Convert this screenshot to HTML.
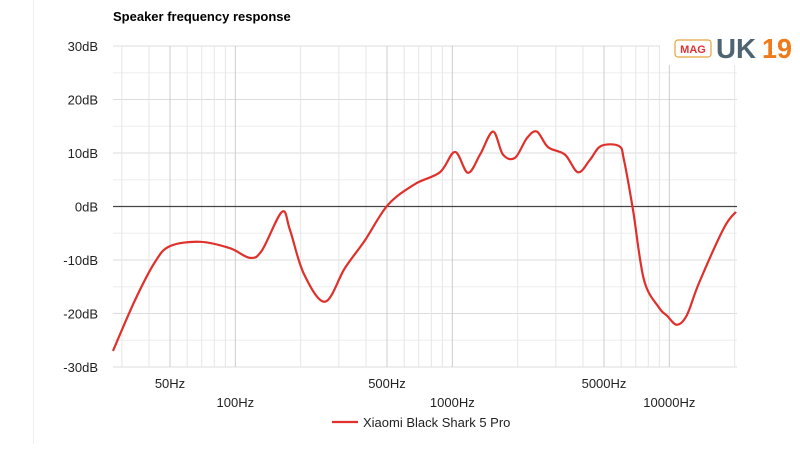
<!DOCTYPE html>
<html><head><meta charset="utf-8"><style>
body{margin:0;background:#fff;width:800px;height:444px;overflow:hidden;font-family:"Liberation Sans",Arial,sans-serif}
</style></head><body>
<svg width="800" height="444" viewBox="0 0 800 444">
<line x1="33.5" y1="0" x2="33.5" y2="444" stroke="#eee"/>
<text x="113" y="21" font-size="13" font-weight="bold" fill="#000">Speaker frequency response</text>
<g id="grid"></g>
<g id="axes"></g>
<path id="curve" fill="none" stroke="#e0302b" stroke-width="2.2"/>
<g>
<rect x="660" y="30" width="140" height="35" fill="#fff"/>
<rect x="675" y="40" width="36" height="17" rx="3" fill="#fff" stroke="#e8a33a" stroke-width="1.2"/>
<text x="693" y="53" font-size="11" font-weight="bold" text-anchor="middle" fill="#d33">MAG</text>
<text x="716" y="58" font-size="28" font-weight="bold" fill="#4f6470" textLength="40" lengthAdjust="spacingAndGlyphs">UK</text>
<text x="762" y="58" font-size="28" font-weight="bold" fill="#f07a1a" textLength="30" lengthAdjust="spacingAndGlyphs">19</text>
</g>
<g>
<line x1="332" y1="422" x2="358" y2="422" stroke="#e0302b" stroke-width="2.2"/>
<text x="363" y="427" font-size="13" fill="#222">Xiaomi Black Shark 5 Pro</text>
</g>
</svg>
<script>
const freqs=[27.3,34.5,42.6,50,68.8,94.5,116.8,132.7,164,178.6,207,259,320,396,505,673,877,1029,1180,1342,1540,1712,1945,2208,2455,2760,3305,3793,4305,4842,5864,6180,6800,7640,8965,9750,10840,12050,13700,17860,20270];
const dbs=[-27,-17.5,-10.4,-7.4,-6.6,-7.8,-9.6,-8.2,-1,-4.4,-12.6,-17.8,-11.5,-6.3,0.3,4.2,6.4,10.2,6.3,9.7,14,9.7,9.1,12.8,14,11.1,9.7,6.4,8.7,11.3,11.3,8.7,-0.6,-13.7,-18.9,-20.4,-22.1,-20.3,-14.3,-4,-1];
const yTicks=[30,20,10,0,-10,-20,-30];
const xTicks=[50,100,500,1000,5000,10000];
const L=113,R=737,T=46,B=367;
const x=f=>170+(Math.log10(f)-Math.log10(50))*217;
const y=d=>T+(30-d)*(B-T)/60;
const ns="http://www.w3.org/2000/svg";
function mk(p,tag,at){const e=document.createElementNS(ns,tag);for(const k in at)e.setAttribute(k,at[k]);p.appendChild(e);return e;}
const g=document.getElementById('grid'),ax=document.getElementById('axes');
for(let d=-30;d<=30;d+=5){if(d===0)continue;const l=mk(g,'line',{x1:L,x2:R,y1:y(d),y2:y(d),stroke:d%10===0?'#ddd':'#eee'});

}
for(let dec=10;dec<=10000;dec*=10)for(let m=1;m<10;m++){const f=dec*m;const xx=x(f);if(xx<L||xx>R)continue;
const l=mk(g,'line',{x1:xx,x2:xx,y1:T,y2:B,stroke:(m===1||m===5)?'#ccc':'#e6e6e6'});

}
const z=mk(ax,'line',{x1:L,x2:R,y1:y(0),y2:y(0),stroke:'#444','stroke-width':1.3});


yTicks.forEach(d=>{const t=mk(ax,'text',{x:98,y:y(d)+5,'font-size':13,'text-anchor':'end',fill:'#222'});t.textContent=d+'dB';

});
xTicks.forEach((f,i)=>{const t=mk(ax,'text',{x:x(f),y:i%2===0?388:407,'font-size':13,'text-anchor':'middle',fill:'#222'});t.textContent=f+'Hz';

});
const P=freqs.map((f,i)=>[x(f),y(dbs[i])]);
let d='M'+P[0][0]+','+P[0][1];
for(let i=0;i<P.length-1;i++){const p0=P[Math.max(0,i-1)],p1=P[i],p2=P[i+1],p3=P[Math.min(P.length-1,i+2)];
d+=' C'+(p1[0]+(p2[0]-p0[0])/6)+','+(p1[1]+(p2[1]-p0[1])/6)+' '+(p2[0]-(p3[0]-p1[0])/6)+','+(p2[1]-(p3[1]-p1[1])/6)+' '+p2[0]+','+p2[1];}
document.getElementById('curve').setAttribute('d',d);
</script>
</body></html>
